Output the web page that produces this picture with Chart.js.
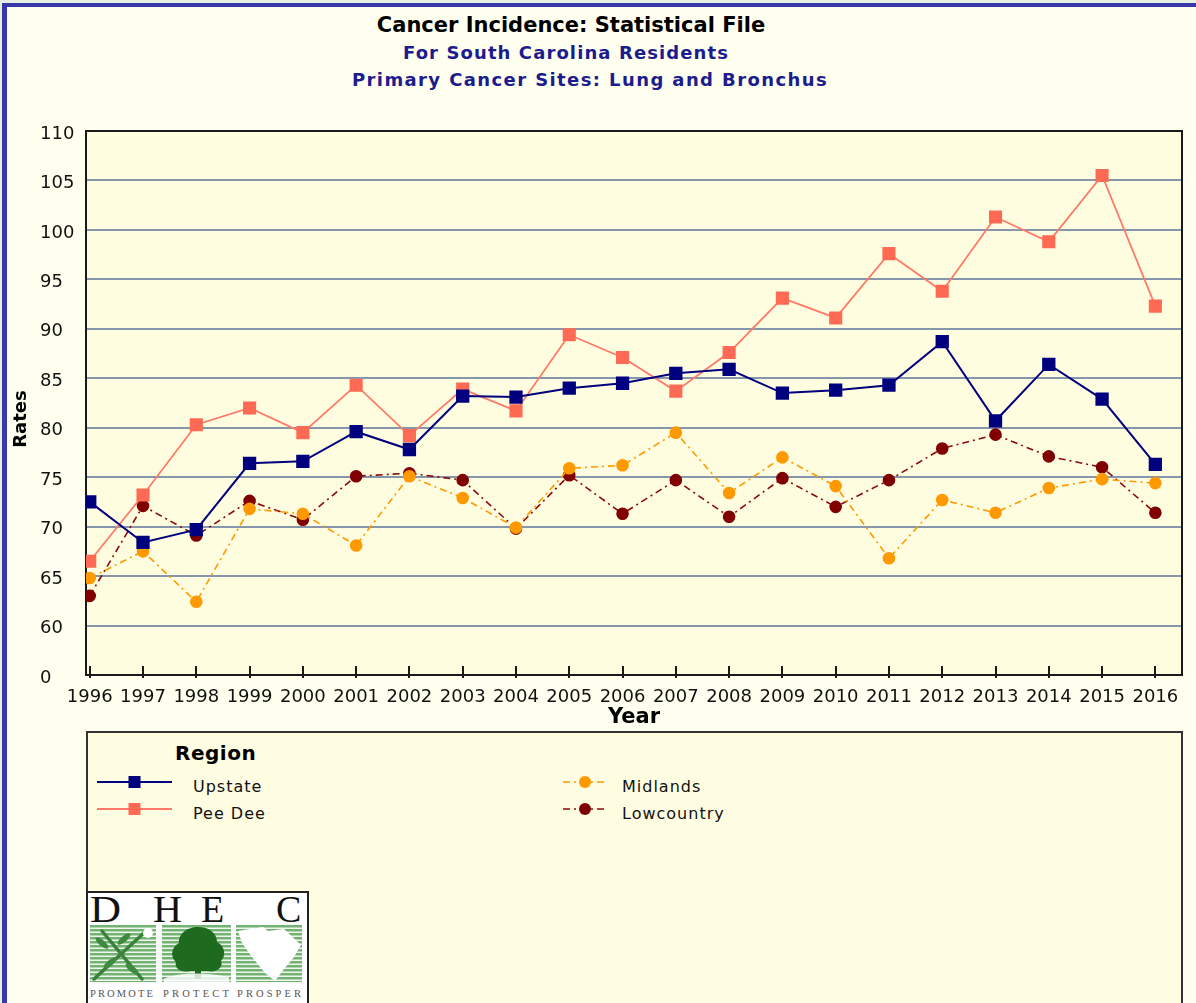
<!DOCTYPE html>
<html>
<head>
<meta charset="utf-8">
<title>Cancer Incidence: Lung and Bronchus</title>
<script src="https://cdn.jsdelivr.net/npm/chart.js@4.4.1/dist/chart.umd.min.js"></script>
<style>
  html, body { margin: 0; padding: 0; }
  body {
    width: 1196px; height: 1003px; overflow: hidden; position: relative;
    background: #E6EFE4; font-family: "DejaVu Sans", sans-serif;
  }
  #frame {
    position: absolute; left: 2px; top: 3px; width: 1220px; height: 1020px;
    background: #FFFFF0; border-left: 5px solid #3838A8; border-top: 4px solid #3838A8;
  }
  .head {
    position: absolute; width: 700px; text-align: center; white-space: nowrap;
    font-weight: bold; line-height: 1.2;
  }
  #t1 { left: 221px; top: 13px; font-size: 21px; color: #000; }
  #t2 { left: 216px; top: 42px; font-size: 18px; color: #1C1C8E; letter-spacing: 1.1px; }
  #t3 { left: 240px; top: 69px; font-size: 18px; color: #1C1C8E; letter-spacing: 1.4px; }
  #chart { position: absolute; left: 0; top: 0; }
  #rates {
    position: absolute; left: -30px; top: 409px; width: 100px; height: 20px;
    line-height: 20px; text-align: center; font-size: 18px; font-weight: bold; color: #000;
    transform: rotate(-90deg);
  }
  #legend {
    position: absolute; left: 86px; top: 731px; width: 1097px; height: 300px;
    box-sizing: border-box; border: 2px solid #333; background: #FFFDE1;
  }
  #legend .title {
    position: absolute; left: 87px; top: 8px; font-size: 20px; font-weight: bold;
    line-height: 1.2; letter-spacing: 0.5px; color: #000;
  }
  #legend .sample { position: absolute; }
  #legend .name {
    position: absolute; font-size: 16px; line-height: 1.2; letter-spacing: 1px; color: #111;
    white-space: nowrap;
  }
  #logo {
    position: absolute; left: 86px; top: 891px; width: 223px; height: 124px;
    box-sizing: border-box; border: 2px solid #222; background: #fff;
  }
  #logo svg { position: absolute; left: 0; top: 0; }
</style>
</head>
<body>
<div id="frame"></div>
<div class="head" id="t1">Cancer Incidence: Statistical File</div>
<div class="head" id="t2">For South Carolina Residents</div>
<div class="head" id="t3">Primary Cancer Sites: Lung and Bronchus</div>

<canvas id="chart" width="1196" height="730"></canvas>
<div id="rates">Rates</div>

<div id="legend">
  <div class="title">Region</div>
</div>

<div id="logo">
  <svg width="219" height="120" xmlns="http://www.w3.org/2000/svg">
    <defs>
      <pattern id="stripes" width="4" height="4" patternUnits="userSpaceOnUse">
        <rect width="4" height="4" fill="#74B274"/>
        <rect y="2.5" width="4" height="1.5" fill="#EEF6EE"/>
      </pattern>
    </defs>
    <g font-family="Liberation Serif, serif" font-size="38" fill="#111">
      <text x="2" y="29" textLength="31" lengthAdjust="spacingAndGlyphs">D</text>
      <text x="65" y="29" textLength="29" lengthAdjust="spacingAndGlyphs">H</text>
      <text x="113" y="29">E</text>
      <text x="188" y="29">C</text>
    </g>
    <rect x="2" y="32" width="66" height="57" fill="url(#stripes)"/>
    <rect x="74" y="32" width="69" height="57" fill="url(#stripes)"/>
    <rect x="148" y="32" width="66" height="57" fill="url(#stripes)"/>
    <!-- tools and leaves -->
    <g stroke="#3A823A" stroke-width="3.5" stroke-linecap="round">
      <line x1="6" y1="86" x2="58" y2="38"/>
      <line x1="14" y1="38" x2="54" y2="86"/>
    </g>
    <g fill="#3E8A3E">
      <ellipse cx="14" cy="50" rx="8" ry="3" transform="rotate(40 14 50)"/>
      <ellipse cx="22" cy="70" rx="8" ry="3" transform="rotate(-40 22 70)"/>
      <ellipse cx="44" cy="76" rx="8" ry="3" transform="rotate(40 44 76)"/>
      <ellipse cx="36" cy="46" rx="8" ry="3" transform="rotate(-40 36 46)"/>
    </g>
    <circle cx="60" cy="40" r="5" fill="#fff"/>
    <!-- tree -->
    <path d="M110 34 C98 34 90 42 91 50 C83 54 82 64 88 69 C86 76 94 80 102 78 L120 78 C128 80 136 74 133 68 C139 62 136 52 129 49 C129 40 121 34 110 34 Z" fill="#1E6A1E"/>
    <rect x="107" y="74" width="6" height="12" fill="#1E6A1E"/>
    <path d="M76 86 C92 78 122 80 141 84 L141 89 L76 89 Z" fill="#fff" opacity="0.8"/>
    <!-- state outline -->
    <polygon points="150,38 175,34 180,38 196,36 213,52 206,64 196,76 187,88 177,80 164,64 154,50" fill="#fff"/>
    <g font-family="Liberation Serif, serif" font-size="10.5" fill="#555">
      <text x="2" y="104" textLength="63" lengthAdjust="spacing">PROMOTE</text>
      <text x="75" y="104" textLength="66" lengthAdjust="spacing">PROTECT</text>
      <text x="149" y="104" textLength="64" lengthAdjust="spacing">PROSPER</text>
    </g>
  </svg>
</div>

<script>
// Lung and bronchus incidence rates by region, 1996-2016
const years = [1996, 1997, 1998, 1999, 2000, 2001, 2002, 2003, 2004, 2005, 2006,
  2007, 2008, 2009, 2010, 2011, 2012, 2013, 2014, 2015, 2016];
const upstate = [72.5, 68.4, 69.7, 76.4, 76.6, 79.6, 77.8, 83.2, 83.1, 84.0, 84.5,
  85.5, 85.9, 83.5, 83.8, 84.3, 88.7, 80.7, 86.4, 82.9, 76.3];
const peeDee = [66.5, 73.2, 80.3, 82.0, 79.5, 84.3, 79.2, 83.9, 81.7, 89.4, 87.1,
  83.7, 87.6, 93.1, 91.1, 97.6, 93.8, 101.3, 98.8, 105.5, 92.3];
const midlands = [64.8, 67.5, 62.4, 71.8, 71.3, 68.1, 75.1, 72.9, 69.9, 75.9, 76.2,
  79.5, 73.4, 77.0, 74.1, 66.8, 72.7, 71.4, 73.9, 74.8, 74.4];
const lowcountry = [63.0, 72.1, 69.1, 72.6, 70.7, 75.1, 75.4, 74.7, 69.8, 75.2, 71.3,
  74.7, 71.0, 74.9, 72.0, 74.7, 77.9, 79.3, 77.1, 76.0, 71.4];

// the value axis is broken below 60, so the bottom tick reads 0
const yTickValues = [55, 60, 65, 70, 75, 80, 85, 90, 95, 100, 105, 110];
const yTickLabels = ['0', '60', '65', '70', '75', '80', '85', '90', '95', '100', '105', '110'];

const toPoints = vals => vals.map((v, i) => ({ x: years[i], y: v }));

Chart.defaults.font.family = '"DejaVu Sans", sans-serif';

// yellow plot background, dark frame and the year tick marks
const plotFrame = {
  id: 'plotFrame',
  beforeDraw(chart) {
    const { ctx, chartArea: a } = chart;
    ctx.save();
    ctx.fillStyle = '#FFFDE0';
    ctx.fillRect(a.left, a.top, a.width, a.height);
    ctx.restore();
  },
  beforeDatasetsDraw(chart) {
    const { ctx, chartArea: a, scales: { x } } = chart;
    ctx.save();
    ctx.strokeStyle = '#1a1a1a';
    ctx.lineWidth = 2;
    ctx.strokeRect(a.left, a.top, a.width, a.height);
    ctx.beginPath();
    x.ticks.forEach(t => {
      const px = Math.round(x.getPixelForValue(t.value));
      ctx.moveTo(px, a.bottom - 9);
      ctx.lineTo(px, a.bottom + 3);
    });
    ctx.stroke();
    ctx.restore();
  }
};

const chart = new Chart(document.getElementById('chart'), {
  type: 'line',
  data: {
    datasets: [{
      label: 'Upstate',
      data: toPoints(upstate),
      borderColor: '#00007F',
      pointBackgroundColor: '#00007F',
      pointBorderColor: '#00007F',
      pointStyle: 'rect',
      pointRadius: 8,
      borderWidth: 2,
      sampleWidth: 75
    }, {
      label: 'Pee Dee',
      data: toPoints(peeDee),
      borderColor: '#FF7A68',
      pointBackgroundColor: '#FF6A55',
      pointBorderColor: '#FF6A55',
      pointStyle: 'rect',
      pointRadius: 8,
      borderWidth: 1.8,
      sampleWidth: 75
    }, {
      label: 'Midlands',
      data: toPoints(midlands),
      borderColor: '#FF9900',
      pointBackgroundColor: '#FF9900',
      pointBorderColor: '#FF9900',
      pointStyle: 'circle',
      pointRadius: 5.5,
      borderWidth: 1.6,
      borderDash: [7, 4, 2, 4],
      sampleWidth: 44
    }, {
      label: 'Lowcountry',
      data: toPoints(lowcountry),
      borderColor: '#8B0A0A',
      pointBackgroundColor: '#800000',
      pointBorderColor: '#800000',
      pointStyle: 'circle',
      pointRadius: 5.5,
      borderWidth: 1.6,
      borderDash: [7, 4, 2, 4],
      sampleWidth: 44
    }]
  },
  options: {
    responsive: false,
    animation: false,
    layout: { padding: { top: 131, right: 14, bottom: 0, left: 40 } },
    elements: { line: { tension: 0 }, point: { borderWidth: 0, hoverRadius: 8 } },
    plugins: {
      legend: { display: false },
      tooltip: { enabled: false }
    },
    scales: {
      x: {
        type: 'linear',
        min: 1995.93,
        max: 2016.5,
        afterBuildTicks: axis => { axis.ticks = years.map(v => ({ value: v })); },
        afterFit: scale => { scale.height = 55; },
        ticks: {
          callback: v => String(v),
          font: { size: 18 },
          color: '#111',
          padding: 12,
          labelOffset: 0,
          maxRotation: 0,
          autoSkip: false
        },
        grid: { display: false, drawTicks: false },
        border: { display: true, color: '#1a1a1a', width: 2 },
        title: {
          display: true,
          text: 'Year',
          color: '#000',
          font: { size: 21, weight: 'bold' },
          padding: { top: 0, bottom: 0 }
        }
      },
      y: {
        min: 55,
        max: 110,
        afterBuildTicks: axis => { axis.ticks = yTickValues.map(v => ({ value: v })); },
        afterFit: scale => { scale.width = 46; },
        ticks: {
          callback: (v, i) => yTickLabels[i],
          font: { size: 18 },
          color: '#111',
          crossAlign: 'far',
          padding: 11,
          labelOffset: 3
        },
        grid: { color: '#8797AB', lineWidth: 2, drawTicks: false },
        border: { display: true, color: '#1a1a1a', width: 2 }
      }
    }
  },
  plugins: [plotFrame]
});

// legend in two columns, built from the chart's own datasets
function sampleSvg(ds) {
  const w = ds.sampleWidth;
  const mid = w / 2;
  const dash = ds.borderDash ? ` stroke-dasharray="${ds.borderDash.join(' ')}"` : '';
  const marker = ds.pointStyle === 'rect'
    ? `<rect x="${mid - 6}" y="3" width="12" height="12" fill="${ds.pointBackgroundColor}"/>`
    : `<circle cx="${mid}" cy="9" r="6" fill="${ds.pointBackgroundColor}"/>`;
  return `<svg width="${w}" height="18"><line x1="0" y1="9" x2="${w}" y2="9" stroke="${ds.borderColor}" stroke-width="${ds.borderWidth}"${dash}/>${marker}</svg>`;
}

const legend = document.getElementById('legend');
const colSample = [9, 475];
const colText = [105, 534];
chart.data.datasets.forEach((ds, i) => {
  const col = Math.floor(i / 2);
  const row = i % 2;
  const sample = document.createElement('div');
  sample.className = 'sample';
  sample.style.left = colSample[col] + 'px';
  sample.style.top = (40 + row * 27) + 'px';
  sample.innerHTML = sampleSvg(ds);
  legend.appendChild(sample);
  const name = document.createElement('div');
  name.className = 'name';
  name.style.left = colText[col] + 'px';
  name.style.top = (44 + row * 27) + 'px';
  name.textContent = ds.label;
  legend.appendChild(name);
});
</script>
</body>
</html>
